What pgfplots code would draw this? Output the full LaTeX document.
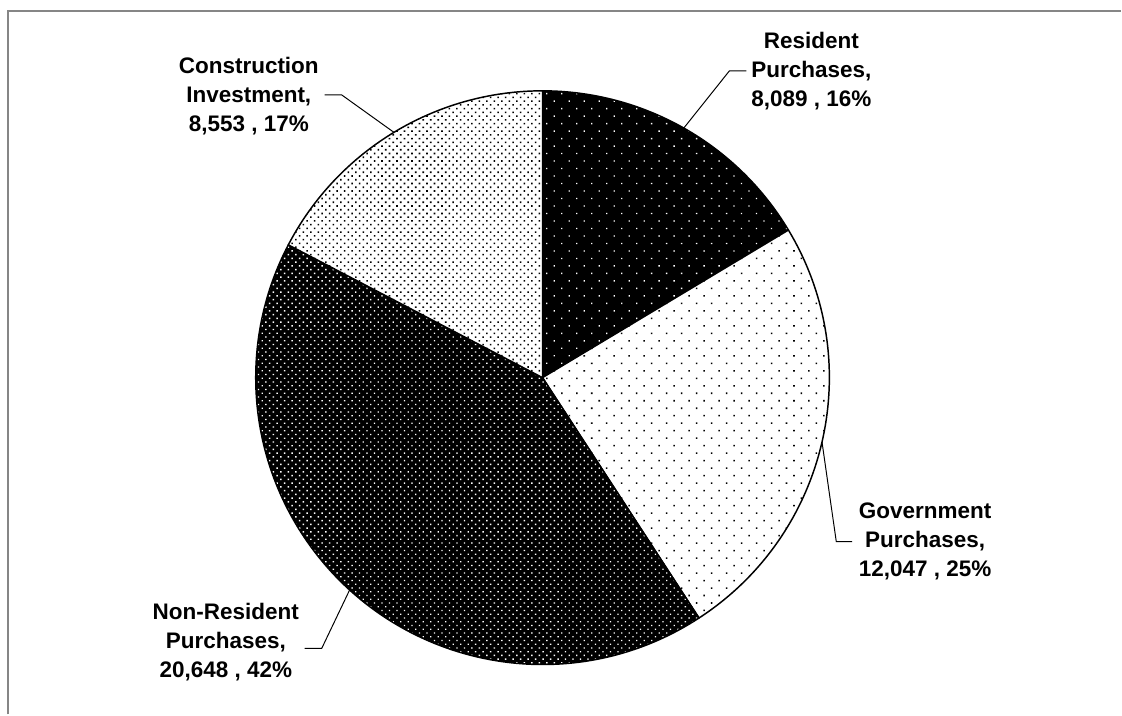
\documentclass[border=0pt]{standalone}
\usepackage{pgfplots}
\pgfplotsset{compat=1.18}
\usepackage{pgfplotstable}
\usetikzlibrary{patterns.meta}
\usepackage{fontspec}
\setmainfont{Liberation Sans}
\definecolor{framegray}{RGB}{134,134,134}

\pgfplotstableread{
label value
Resident 8089
Government 12047
NonResident 20648
Construction 8553
}\piedata

\newcommand\R{7.175cm}
\newcommand\slice[5]{%
  \fill[#3] (543,337) -- +(#1:\R) arc[start angle=#1, end angle=#2, radius=\R] -- cycle;
  \fill[pattern={Dots[#5]}, pattern color=#4] (543,337) -- +(#1:\R) arc[start angle=#1, end angle=#2, radius=\R] -- cycle;
  \draw[line width=1.05pt, line join=round] (543,337) -- +(#1:\R) arc[start angle=#1, end angle=#2, radius=\R] -- cycle;
}

\begin{document}
\begin{tikzpicture}
\pgfplotstablegetelem{0}{value}\of\piedata \edef\vA{\pgfplotsretval}
\pgfplotstablegetelem{1}{value}\of\piedata \edef\vB{\pgfplotsretval}
\pgfplotstablegetelem{2}{value}\of\piedata \edef\vC{\pgfplotsretval}
\pgfplotstablegetelem{3}{value}\of\piedata \edef\vD{\pgfplotsretval}
\edef\tot{\fpeval{\vA+\vB+\vC+\vD}}
\edef\aA{90}
\edef\aB{\fpeval{90-360*\vA/\tot}}
\edef\aC{\fpeval{\aB-360*\vB/\tot}}
\edef\aD{\fpeval{\aC-360*\vC/\tot}}
\edef\aE{-270}
\edef\mA{\fpeval{(\aA+\aB)/2}}
\edef\mB{\fpeval{(\aB+\aC)/2}}
\edef\mC{\fpeval{(\aC+\aD)/2}}
\edef\mD{\fpeval{(\aD+\aE)/2}}
\begin{axis}[
  hide axis,
  x=0.025cm, y=0.025cm,
  xmin=0, xmax=1122, ymin=0, ymax=715,
  scale only axis, clip=false,
  font=\bfseries\fontsize{16}{20.6}\selectfont,
]
\path (0,0) rectangle (1122,715);
\draw[framegray, line width=0.05cm] (8,0) -- (8,704) -- (1122,704);

\slice{\aA}{\aB}{black}{white}{distance=0.265cm, angle=45, radius=0.024cm}
\slice{\aB}{\aC}{white}{black}{distance=0.265cm, angle=45, radius=0.027cm}
\slice{\aC}{\aD}{black}{white}{distance=0.1325cm, angle=45, radius=0.024cm}
\slice{\aD}{\aE}{white}{black}{distance=0.1325cm, angle=45, radius=0.028cm}

\draw[line width=0.7pt] (543,337) ++(\mA:\R) -- (730,644) -- (747,644);
\draw[line width=0.7pt] (543,337) ++(\mB:\R) -- (837,173) -- (853,173);
\draw[line width=0.7pt] (543,337) ++(\mC:\R) -- (322,66) -- (305,66);
\draw[line width=0.7pt] (543,337) ++(\mD:\R) -- (342,620) -- (325,620);

\node[align=center, inner sep=0pt] at (812,644) {Resident\\Purchases,\\8,089 , 16\%};
\node[align=center, inner sep=0pt] at (926,173) {Government\\Purchases,\\12,047 , 25\%};
\node[align=center, inner sep=0pt] at (226,72) {Non-Resident\\Purchases,\\20,648 , 42\%};
\node[align=center, inner sep=0pt] at (249,619) {Construction\\Investment,\\8,553 , 17\%};
\end{axis}
\end{tikzpicture}
\end{document}
